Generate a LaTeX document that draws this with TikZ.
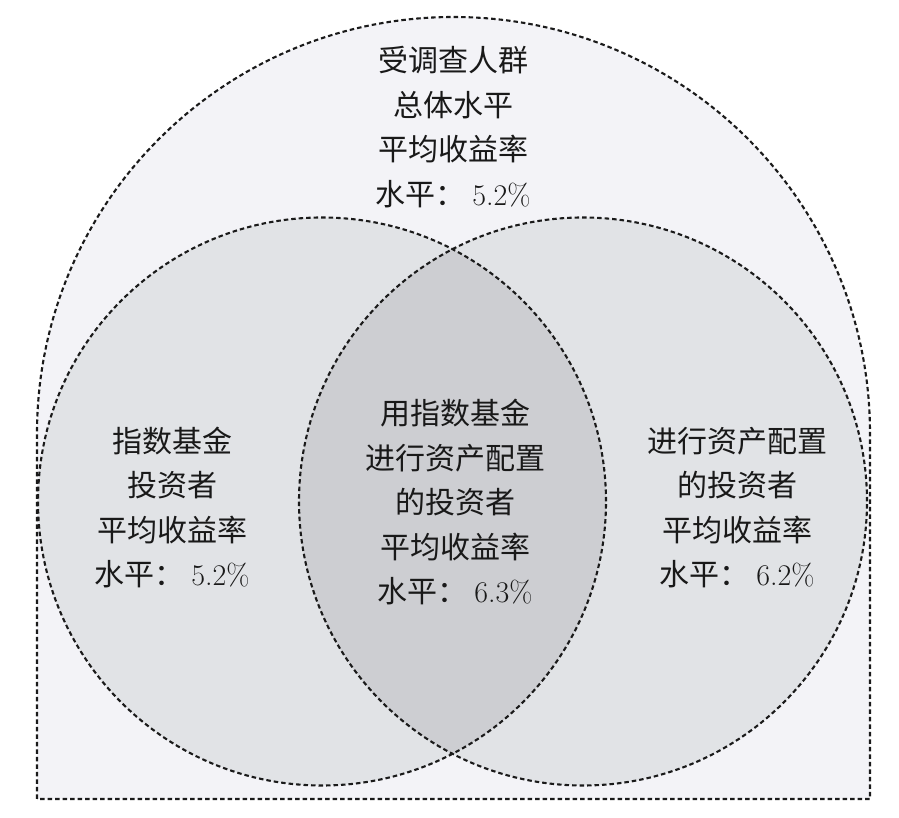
\documentclass[tikz,border=0pt]{standalone}
\usepackage{fontspec}
\newfontfamily\cjk{Noto Sans CJK SC}
\definecolor{outerfill}{HTML}{F3F3F7}
\definecolor{circfill}{HTML}{E1E3E6}
\definecolor{lensfill}{HTML}{CDCED2}
\definecolor{dashcol}{HTML}{1A1A1A}
\tikzset{
  dashline/.style={draw=dashcol, line width=2.1pt, dash pattern=on 4.5pt off 3pt},
  label/.style={align=center, text=black!90, font=\cjk\fontsize{30}{44.5}\selectfont},
}
\newcommand{\num}[1]{{\rmfamily #1}}
\begin{document}
\begin{tikzpicture}[x=1pt,y=1pt]
\useasboundingbox (0,0) rectangle (899,818);
% outer arch
\fill[outerfill] (37,19) -- (37,384.5) arc[start angle=180,end angle=0,radius=416.5] -- (870,19) -- cycle;
% circles
\fill[circfill] (322,316.5) circle[radius=284];
\fill[circfill] (583,316.5) circle[radius=284];
\begin{scope}
  \clip (322,316.5) circle[radius=284];
  \fill[lensfill] (583,316.5) circle[radius=284];
\end{scope}
% outlines
\draw[dashline] (37,19) -- (37,384.5) arc[start angle=180,end angle=0,radius=416.5] -- (870,19) -- cycle;
\draw[dashline] (322,316.5) circle[radius=284];
\draw[dashline] (583,316.5) circle[radius=284];
% texts
\node[label] (top) at (453,691) {受调查人群\\总体水平\\平均收益率\\水平：~\num{5.2\%}};
\node[label] (left) at (172,310.5) {指数基金\\投资者\\平均收益率\\水平：~\num{5.2\%}};
\node[label] (mid) at (455,316) {用指数基金\\进行资产配置\\的投资者\\平均收益率\\水平：~\num{6.3\%}};
\node[label] (right) at (737,310.5) {进行资产配置\\的投资者\\平均收益率\\水平：~\num{6.2\%}};
\end{tikzpicture}
\end{document}
